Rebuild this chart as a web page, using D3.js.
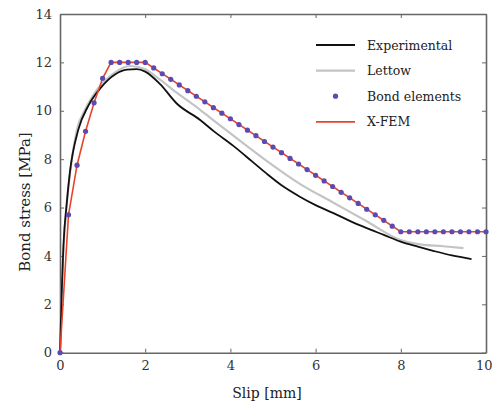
<!DOCTYPE html>
<html>
<head>
<meta charset="utf-8">
<script src="https://cdn.jsdelivr.net/npm/d3@7"></script>
<style>
  body { margin: 0; background: #fff; }
  svg { display: block; font-family: 'DejaVu Serif', serif; }
</style>
</head>
<body>
<svg></svg>
<script>
let width = 493
let height = 409

// experimental curve
let expSlip = [0, 0.04, 0.08, 0.16, 0.23, 0.43, 0.66, 0.98, 1.29, 1.57, 1.8, 2.0, 2.35, 2.74, 3.29, 3.6, 4.07, 4.5, 4.85, 5.2, 5.63, 6.0, 6.42, 6.8, 7.2, 7.6, 7.98, 8.4, 8.76, 9.2, 9.66]
let expStress = [0, 2.47, 4.4, 6.2, 7.43, 9.22, 10.19, 11.0, 11.5, 11.7, 11.72, 11.62, 11.1, 10.3, 9.62, 9.17, 8.55, 7.92, 7.4, 6.92, 6.45, 6.1, 5.77, 5.45, 5.15, 4.87, 4.6, 4.38, 4.21, 4.02, 3.87]

// Lettow
let letSlip = [0, 0.05, 0.15, 0.25, 0.39, 0.59, 0.8, 1.0, 1.3, 1.64, 2.0, 2.3, 2.74, 3.29, 3.52, 4.07, 4.85, 5.63, 6.42, 7.2, 7.98, 8.37, 9.0, 9.47]
let letStress = [0, 3.0, 6.0, 7.6, 9.15, 10.05, 10.7, 11.15, 11.6, 11.85, 11.72, 11.35, 10.75, 10.04, 9.72, 8.97, 7.93, 6.98, 6.2, 5.43, 4.67, 4.5, 4.4, 4.32]

// bond elements (points)
let bondSlip = [0, 0.2, 0.4, 0.6, 0.8, 1.0, 1.2, 1.4, 1.6, 1.8, 2.0, 2.2, 2.4, 2.6, 2.8, 3.0, 3.2, 3.4, 3.6, 3.8, 4.0, 4.2, 4.4, 4.6, 4.8, 5.0, 5.2, 5.4, 5.6, 5.8, 6.0, 6.2, 6.4, 6.6, 6.8, 7.0, 7.2, 7.4, 7.6, 7.8, 8.0, 8.2, 8.4, 8.6, 8.8, 9.0, 9.2, 9.4, 9.6, 9.8, 10.0]
let bondStress = [0, 5.7, 7.75, 9.15, 10.33, 11.34, 12, 12, 12, 12, 12, 11.77, 11.53, 11.3, 11.07, 10.83, 10.6, 10.37, 10.13, 9.9, 9.67, 9.43, 9.2, 8.97, 8.73, 8.5, 8.27, 8.03, 7.8, 7.57, 7.33, 7.1, 6.87, 6.63, 6.4, 6.17, 5.93, 5.7, 5.47, 5.23, 5.0, 5, 5, 5, 5, 5, 5, 5, 5, 5, 5]

// X-FEM
let xfemSlip = [0, 0.2, 0.4, 0.6, 0.8, 1.0, 1.2, 2.0, 8.0, 10.0]
let xfemStress = [0, 5.7, 7.75, 9.15, 10.33, 11.34, 12, 12, 5, 5]

let xTicks = [0, 2, 4, 6, 8, 10]
let yTicks = [0, 2, 4, 6, 8, 10, 12, 14]
let legendNames = ['Experimental', 'Lettow', 'Bond elements', 'X-FEM']

let padLeft = 60, padRight = 486, padTop = 14, padBottom = 352.7

let svg = d3.select('svg').attr('width', width).attr('height', height)

let xScale = d3.scaleLinear().domain([0, 10]).range([padLeft, padRight])
let yScale = d3.scaleLinear().domain([0, 14]).range([padBottom, padTop])

let zip = (xs, ys) => xs.map((x, i) => [x, ys[i]])

let line = d3.line().x(d => xScale(d[0])).y(d => yScale(d[1]))
let smooth = d3.line().x(d => xScale(d[0])).y(d => yScale(d[1])).curve(d3.curveMonotoneX)

// axes, ticks pointing inward
let axisColor = '#666'
let styleAxis = (g) => {
    g.select('.domain').attr('stroke', axisColor).attr('stroke-width', 1.6)
    g.selectAll('.tick line').attr('stroke', axisColor)
    g.selectAll('.tick text').attr('fill', '#333').style('font-size', '13px').style('font-family', "'DejaVu Serif', serif")
}

let xAxisG = svg.append('g')
    .attr('transform', 'translate(0,' + padBottom + ')')
    .call(d3.axisBottom(xScale).tickValues(xTicks).tickSizeInner(-4).tickSizeOuter(0).tickPadding(8))
    .call(styleAxis)
// last label sits against the right edge
xAxisG.selectAll('.tick text').filter(d => d == 10).attr('text-anchor', 'end').attr('dx', '6')

svg.append('g')
    .attr('transform', 'translate(0,' + padTop + ')')
    .call(d3.axisTop(xScale).tickValues(xTicks).tickSizeInner(-4).tickSizeOuter(0).tickFormat(''))
    .call(styleAxis)

svg.append('g')
    .attr('transform', 'translate(' + padLeft + ',0)')
    .call(d3.axisLeft(yScale).tickValues(yTicks).tickSizeInner(-4).tickSizeOuter(0).tickPadding(8))
    .call(styleAxis)

svg.append('g')
    .attr('transform', 'translate(' + padRight + ',0)')
    .call(d3.axisRight(yScale).tickValues(yTicks).tickSizeInner(-4).tickSizeOuter(0).tickFormat(''))
    .call(styleAxis)

// curves
svg.append('path').datum(zip(letSlip, letStress))
    .attr('d', smooth).attr('fill', 'none').attr('stroke', '#c4c4c4').attr('stroke-width', 2.2)

svg.append('path').datum(zip(expSlip, expStress))
    .attr('d', smooth).attr('fill', 'none').attr('stroke', '#111').attr('stroke-width', 1.8)

svg.append('path').datum(zip(xfemSlip, xfemStress))
    .attr('d', line).attr('fill', 'none').attr('stroke', '#e8442c').attr('stroke-width', 1.6)

svg.selectAll('circle.bond')
    .data(zip(bondSlip, bondStress))
    .enter()
    .append('circle')
    .attr('class', 'bond')
    .attr('cx', d => xScale(d[0]))
    .attr('cy', d => yScale(d[1]))
    .attr('r', 2.6)
    .attr('fill', '#5b4bb0')

// legend
let legend = svg.append('g').attr('transform', 'translate(316,45)')
let rowH = 25.6
legendNames.forEach((name, i) => {
    let g = legend.append('g').attr('transform', 'translate(0,' + (i * rowH) + ')')
    if (i == 2) {
        g.append('circle').attr('cx', 19.5).attr('cy', 0).attr('r', 2.6).attr('fill', '#5b4bb0')
    } else {
        let col = ['#111', '#c4c4c4', null, '#e8442c'][i]
        g.append('line').attr('x1', 0).attr('x2', 39).attr('y1', 0).attr('y2', 0)
            .attr('stroke', col).attr('stroke-width', i == 1 ? 2.2 : 1.8)
    }
    g.append('text').attr('x', 51).attr('y', 4.5)
        .style('font-size', '12.5px').attr('fill', '#222').text(name)
})

// axis labels
svg.append('text')
    .attr('x', 267).attr('y', 398)
    .attr('text-anchor', 'middle')
    .style('font-size', '14px').attr('fill', '#222')
    .text('Slip [mm]')

svg.append('text')
    .attr('transform', 'translate(30,202) rotate(-90)')
    .attr('text-anchor', 'middle')
    .style('font-size', '15px').attr('fill', '#222')
    .text('Bond stress [MPa]')
</script>
</body>
</html>
